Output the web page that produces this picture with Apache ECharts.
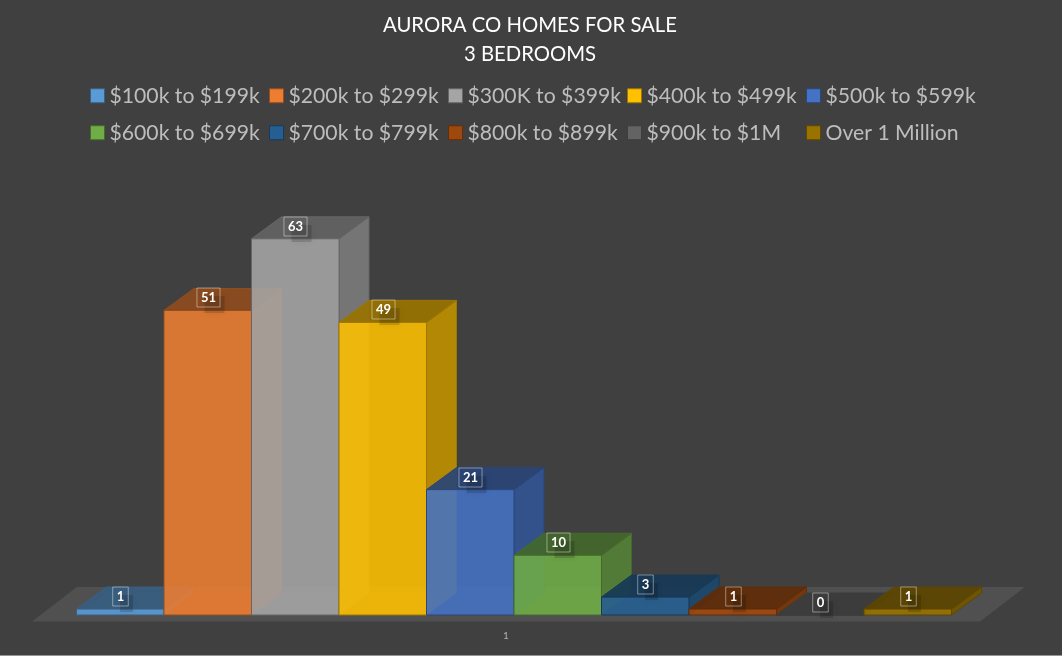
<!DOCTYPE html>
<html><head><meta charset="utf-8">
<style>html,body{margin:0;padding:0;background:#404040}#c{width:1062px;height:656px}</style>
<script src="https://cdn.jsdelivr.net/npm/echarts@6/dist/echarts.min.js"></script></head>
<body><div id="c"></div>
<script>
const categories = ['1'];
const seriesNames = ['$100k to $199k','$200k to $299k','$300K to $399k','$400k to $499k','$500k to $599k','$600k to $699k','$700k to $799k','$800k to $899k','$900k to $1M','Over 1 Million'];
const seriesValues = [1,51,63,49,21,10,3,1,0,1];
const palette = ['#5B9BD5','#ED7D31','#A5A5A5','#FFC000','#4472C4','#70AD47','#255E91','#9E480E','#636363','#997300'];

const DX = 30, DY = 22;
const FLOOR_DX = 45, FLOOR_FRONT = 6.5, FLOOR_BACK = 28;
const BAND_W = 948, BAR_W = 87.5, LEAD = 44.5;

function shade(hex, f, a){
  const n = parseInt(hex.slice(1),16);
  return `rgba(${Math.round((n>>16&255)*f)},${Math.round((n>>8&255)*f)},${Math.round((n&255)*f)},${a})`;
}
function poly(points, fill, stroke, extra){
  return Object.assign({type:'polygon', shape:{points}, style:{fill, stroke, lineWidth:1}}, extra||{});
}
function barRenderer(i){
  return function(params, api){
    const v = api.value(1);
    const c = api.coord([0, v]), base = api.coord([0, 0]);
    const band = api.size([1, 0])[0];
    const scale = band / BAND_W;
    const l = c[0] - band/2 + (LEAD + i*BAR_W)*scale, r = l + BAR_W*scale;
    const t = c[1], b = base[1];
    const col = palette[i], edge = shade(col, 0.62, 1);
    const lx = Math.round((l+r)/2)+0.5, ly = Math.round(t-13)+0.5;
    const boxW = String(v).length*7+8, boxH = 19;
    return {type:'group', children:[
      poly([[l,b],[r,b],[r+DX,b-DY],[l+DX,b-DY]], shade(col,1,0.12), 'none'),
      poly([[r,t],[r+DX,t-DY],[r+DX,b-DY],[r,b]], shade(col,0.74,0.92), edge),
      poly([[l,t],[r,t],[r+DX,t-DY],[l+DX,t-DY]], shade(col,0.6,0.92), edge),
      poly([[l,t],[r,t],[r,b],[l,b]], shade(col,1,0.88), edge),
      {type:'rect', z2:99, silent:true,
        shape:{x:lx-boxW/2+7, y:ly-boxH/2+8, width:boxW-2, height:boxH-2},
        style:{fill:'rgba(0,0,0,0.14)', shadowColor:'rgba(0,0,0,0.35)', shadowBlur:7}},
      {type:'text', z2:100, style:{
        text:String(v), x:lx, y:ly, align:'center', verticalAlign:'middle',
        fill:'#fff', fontSize:13, fontWeight:'bold', fontFamily:'Lato, "Liberation Sans", sans-serif',
        padding:[3,4,3,4], borderColor:'rgba(255,255,255,0.42)', borderWidth:1
      }}
    ]};
  };
}
const floorSeries = {
  type:'custom', name:'floor', silent:true, z:1, data:[[0,0]],
  renderItem(params, api){
    const c = api.coord([0,0]), band = api.size([1,0])[0];
    const l = c[0]-band/2, r = c[0]+band/2, y = c[1];
    return poly([[l,y+FLOOR_FRONT],[r,y+FLOOR_FRONT],[r+FLOOR_DX,y-FLOOR_BACK],[l+FLOOR_DX,y-FLOOR_BACK]], '#505050', 'none');
  }
};
const chart = echarts.init(document.getElementById('c'), null, {renderer:'canvas'});
chart.setOption({
  backgroundColor:'#404040',
  animation:false,
  title:{text:'AURORA CO HOMES FOR SALE\n3 BEDROOMS', left:525, textAlign:'center', top:6,
    textStyle:{color:'#fff', fontWeight:'normal', fontSize:20.3, lineHeight:29, fontFamily:'Lato, sans-serif'}},
  legend:{
    left:85, top:74, width:940, icon:'rect', itemWidth:14, itemHeight:14, itemGap:3.5,
    textStyle:{color:'#BDBDBD', fontSize:21.2, fontFamily:'Lato, sans-serif', width:156, overflow:'none', lineHeight:33.5},
    data:seriesNames.map((name,i)=>({name, itemStyle:{borderColor:shade(palette[i],0.62,1), borderWidth:1}}))
  },
  graphic:[{type:'rect', silent:true, shape:{x:0,y:655,width:1062,height:1}, style:{fill:'#959595'}}],
  grid:{left:32, right:82, top:197, bottom:41},
  xAxis:{type:'category', data:categories, axisLine:{show:false}, axisTick:{show:false},
    axisLabel:{color:'#B0B0B0', fontSize:10, margin:16, fontFamily:'Lato, sans-serif'}},
  yAxis:{type:'value', min:0, max:70, show:false, splitLine:{show:false}},
  series:[floorSeries].concat(seriesNames.map((name,i)=>({
    type:'custom', name, z:2+i, itemStyle:{color:palette[i]},
    data:[[0, seriesValues[i]]], renderItem:barRenderer(i), clip:false
  })))
});
</script></body></html>
